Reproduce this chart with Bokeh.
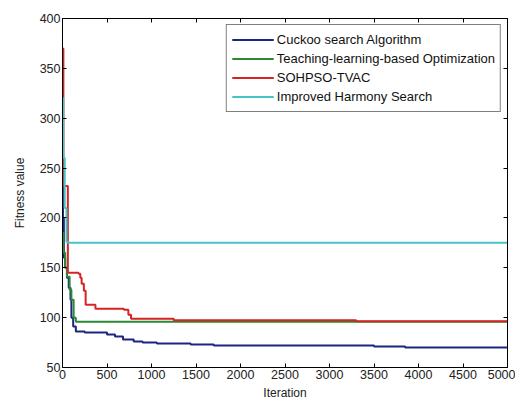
from bokeh.plotting import figure
from bokeh.models import FixedTicker, LinearAxis, Legend, LegendItem, Range1d
from bokeh.embed import file_html
from bokeh.resources import INLINE

# ---- data ----
cs_iter = [0, 5, 15, 30, 50, 70, 90, 100, 120, 150, 250, 500, 590, 680, 800, 900, 1060, 1440, 1700, 3500, 3850, 5000]
cs_val = [270, 200, 160, 150, 140, 130, 118, 100, 91, 86, 85, 83, 81, 78, 76, 75, 74, 73, 72, 71, 70, 70]

tlbo_iter = [0, 10, 30, 50, 80, 100, 125, 150, 5000]
tlbo_val = [185, 165, 150, 141, 128, 118, 100, 96, 96]

sohpso_iter = [0, 10, 50, 60, 180, 200, 215, 240, 260, 370, 690, 740, 770, 1250, 3300, 5000]
sohpso_val = [370, 232, 232, 145, 144, 140, 134, 127, 113, 109, 108, 103, 99, 97.5, 96.5, 96.5]

ihs_iter = [0, 10, 25, 45, 60, 5000]
ihs_val = [320, 260, 210, 176, 175, 175]

series_names = ["Cuckoo search Algorithm", "Teaching-learning-based Optimization",
                "SOHPSO-TVAC", "Improved Harmony Search"]
series_colors = ["#1c2580", "#2a8a35", "#d42424", "#46c3c8"]

x_ticks = [0, 500, 1000, 1500, 2000, 2500, 3000, 3500, 4000, 4500, 5000]
y_ticks = [50, 100, 150, 200, 250, 300, 350, 400]

FONT = "Liberation Sans"

p = figure(width=515, height=402, output_backend="svg", toolbar_location=None,
           x_range=Range1d(0, 5000), y_range=Range1d(50, 400),
           min_border_left=62, min_border_right=8, min_border_top=18, min_border_bottom=34)
p.grid.visible = False
p.outline_line_color = "black"
p.outline_line_width = 1
p.background_fill_color = "white"

for ax in (p.xaxis[0], p.yaxis[0]):
    ax.major_tick_in = 4
    ax.major_tick_out = 0
    ax.minor_tick_line_color = None
    ax.axis_line_color = "black"
    ax.major_label_text_font = FONT
    ax.major_label_text_font_size = "12.5px"
    ax.major_label_text_color = "#222222"
    ax.axis_label_text_font = FONT
    ax.axis_label_text_font_size = "12px"
    ax.axis_label_text_font_style = "normal"
    ax.axis_label_text_color = "#222222"
    ax.major_label_standoff = 2

p.xaxis[0].ticker = FixedTicker(ticks=x_ticks)
p.yaxis[0].ticker = FixedTicker(ticks=y_ticks)
p.xaxis[0].axis_label = "Iteration"
p.xaxis[0].axis_label_standoff = 4
p.yaxis[0].axis_label = "Fitness value"
p.yaxis[0].axis_label_standoff = 10

top = LinearAxis(ticker=FixedTicker(ticks=x_ticks), major_tick_in=4, major_tick_out=0,
                 minor_tick_line_color=None, major_label_standoff=0,
                 major_label_overrides={t: "" for t in x_ticks})
right = LinearAxis(ticker=FixedTicker(ticks=y_ticks), major_tick_in=4, major_tick_out=0,
                   minor_tick_line_color=None, major_label_standoff=0,
                   major_label_overrides={t: "" for t in y_ticks})
p.add_layout(top, "above")
p.add_layout(right, "right")

data = [(cs_iter, cs_val), (tlbo_iter, tlbo_val), (sohpso_iter, sohpso_val), (ihs_iter, ihs_val)]
items = []
for (xs, ys), name, col in zip(data, series_names, series_colors):
    r = p.step(xs, ys, mode="after", line_color=col, line_width=2)
    items.append(LegendItem(label=name, renderers=[r]))

legend = Legend(items=items, location="top_right")
legend.label_text_font = FONT
legend.label_text_font_size = "13px"
legend.label_text_color = "#111111"
legend.glyph_width = 42
legend.glyph_height = 19
legend.label_height = 19
legend.label_standoff = 3
legend.spacing = 0
legend.padding = 5
legend.margin = 6
legend.border_line_color = "black"
legend.border_line_width = 1
legend.background_fill_alpha = 1
p.add_layout(legend)

open("out.html", "w").write(file_html(p, INLINE))
